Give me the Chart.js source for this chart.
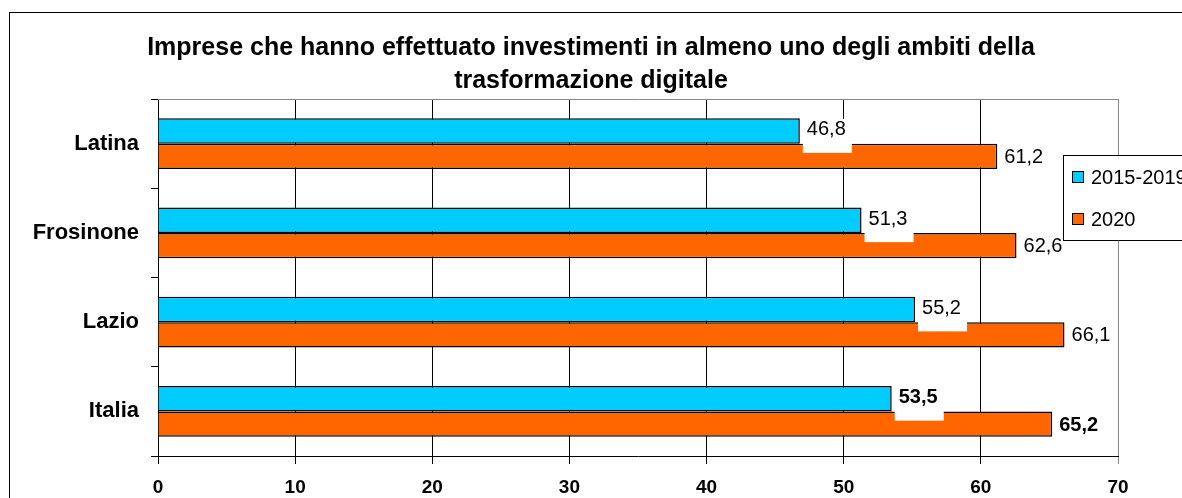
<!DOCTYPE html>
<html>
<head>
<meta charset="utf-8">
<script src="https://cdn.jsdelivr.net/npm/chart.js@4"></script>
<style>
  html, body { margin: 0; padding: 0; background: #fff; }
  #wrap { width: 1182px; height: 498px; }
</style>
</head>
<body>
<div id="wrap"><canvas id="chart" width="1182" height="498"></canvas></div>
<script>
const categories = ['Latina', 'Frosinone', 'Lazio', 'Italia'];
const seriesNames = ['2015-2019', '2020'];
const values2015 = [46.8, 51.3, 55.2, 53.5];
const values2020 = [61.2, 62.6, 66.1, 65.2];
const xTicks = [0, 10, 20, 30, 40, 50, 60, 70];
const boldRows = ['Italia'];

const FONT = "'Liberation Sans', Arial, sans-serif";

// etichette dei valori, bordo esterno, legenda
const extras = {
  id: 'extras',
  beforeDraw(chart) {
    const ctx = chart.ctx;
    ctx.save();
    ctx.fillStyle = '#fff';
    ctx.fillRect(0, 0, chart.width, chart.height);
    ctx.restore();
  },
  beforeDatasetsDraw(chart) {
    const { ctx, chartArea } = chart;
    ctx.save();
    ctx.strokeStyle = '#888';
    ctx.lineWidth = 1;
    ctx.beginPath();
    ctx.moveTo(chartArea.left, chartArea.top + 0.5);
    ctx.lineTo(chartArea.right + 0.5, chartArea.top + 0.5);
    ctx.stroke();
    ctx.restore();
  },
  afterDatasetsDraw(chart) {
    const ctx = chart.ctx;
    ctx.save();
    chart.data.datasets.forEach((ds, di) => {
      const meta = chart.getDatasetMeta(di);
      meta.data.forEach((bar, i) => {
        const bold = boldRows.includes(categories[i]);
        const txt = ds.data[i].toFixed(1).replace('.', ',');
        if (di === 0) {
          ctx.fillStyle = '#fff';
          ctx.fillRect(bar.x + 3, bar.y - 12, 49, 34);
        }
        ctx.font = (bold ? 'bold ' : '') + '20px ' + FONT;
        ctx.fillStyle = '#000';
        ctx.textAlign = 'left';
        ctx.textBaseline = 'middle';
        ctx.fillText(txt, bar.x + 7, bar.y + (di === 0 ? -1 : 1));
      });
    });
    ctx.restore();
  },
  afterDraw(chart) {
    const ctx = chart.ctx;
    ctx.save();
    ctx.strokeStyle = '#000';
    ctx.lineWidth = 1;
    ctx.strokeRect(9.5, 12.5, 1300, 600);

    // legenda
    ctx.fillStyle = '#fff';
    ctx.fillRect(1063.5, 155.5, 200, 85);
    ctx.strokeRect(1063.5, 155.5, 200, 85);
    ctx.font = '20px ' + FONT;
    ctx.textBaseline = 'middle';
    ctx.textAlign = 'left';
    const rows = [178, 220];
    chart.data.datasets.forEach((ds, i) => {
      ctx.fillStyle = ds.backgroundColor;
      ctx.fillRect(1072.5, rows[i] - 6.5, 11, 11);
      ctx.strokeRect(1072.5, rows[i] - 6.5, 11, 11);
      ctx.fillStyle = '#000';
      ctx.fillText(seriesNames[i], 1091, rows[i]);
    });
    ctx.restore();
  }
};

new Chart(document.getElementById('chart'), {
  type: 'bar',
  data: {
    labels: categories,
    datasets: [
      { label: seriesNames[0], data: values2015, backgroundColor: '#00CCFF', borderColor: '#000', borderWidth: 1.5 },
      { label: seriesNames[1], data: values2020, backgroundColor: '#FF6600', borderColor: '#000', borderWidth: 1.5 }
    ]
  },
  options: {
    indexAxis: 'y',
    responsive: false,
    animation: false,
    categoryPercentage: 0.571,
    barPercentage: 1,
    layout: { padding: 0 },
    plugins: {
      legend: { display: false },
      tooltip: { enabled: false },
      title: {
        display: true,
        text: ['Imprese che hanno effettuato investimenti in almeno uno degli ambiti della', 'trasformazione digitale'],
        color: '#000',
        font: { family: FONT, size: 25, weight: 'bold', lineHeight: 1.3 },
        padding: { top: 32, bottom: 2 }
      }
    },
    scales: {
      x: {
        min: 0,
        max: 70,
        afterFit(s) { s.height = 42; },
        afterBuildTicks(s) { s.ticks = xTicks.map(v => ({ value: v })); },
        ticks: { color: '#000', padding: 12, font: { family: FONT, size: 19, weight: 'bold' } },
        grid: {
          color: c => c.tick && c.tick.value === 70 ? '#888' : '#000',
          lineWidth: 1,
          tickLength: 8
        },
        border: { color: '#000', width: 1 }
      },
      y: {
        afterFit(s) { s.width = 158; },
        ticks: { color: '#000', padding: 12, font: { family: FONT, size: 22, weight: 'bold' } },
        grid: { offset: true, drawOnChartArea: false, color: '#000', tickLength: 7 },
        border: { color: '#000', width: 1 }
      },
      yRight: {
        position: 'right',
        type: 'category',
        labels: categories,
        afterFit(s) { s.width = 64; },
        ticks: { display: false },
        grid: { display: false },
        border: { display: false }
      }
    }
  },
  plugins: [extras]
});
</script>
</body>
</html>
